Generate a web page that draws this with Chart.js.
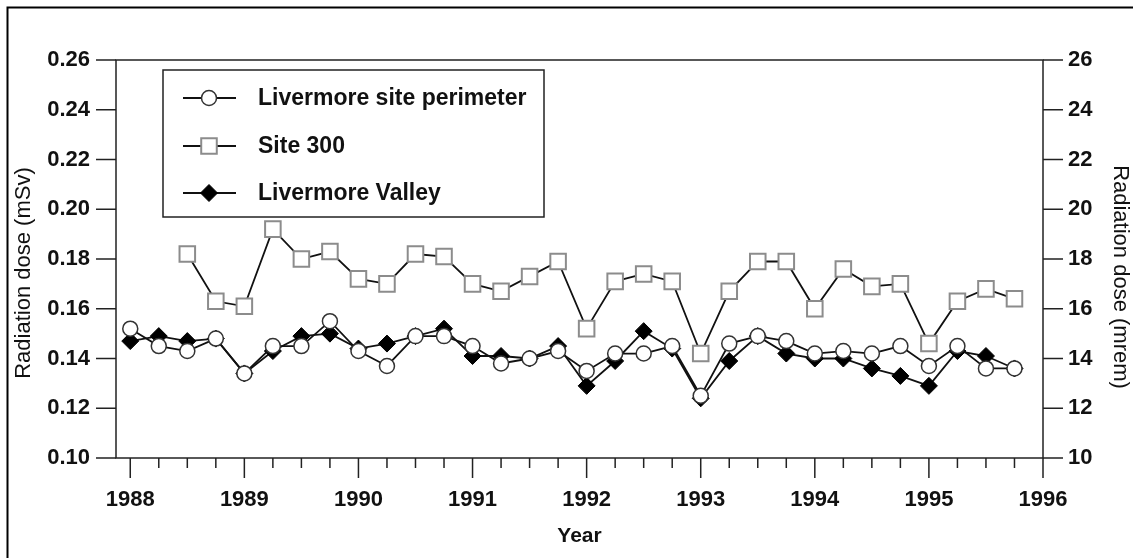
<!DOCTYPE html>
<html lang="en">
<head>
<meta charset="UTF-8">
<title>Radiation dose</title>
<script src="https://cdn.jsdelivr.net/npm/chart.js"></script>
<style>
  body { margin: 0; background: #fff; }
  canvas { display: block; }
</style>
</head>
<body>
<canvas id="doseChart" width="1133" height="558"></canvas>
<script>
// quarterly sampling, 1988 - 1995
const quarters = [1988, 1988.25, 1988.5, 1988.75, 1989, 1989.25, 1989.5, 1989.75,
  1990, 1990.25, 1990.5, 1990.75, 1991, 1991.25, 1991.5, 1991.75,
  1992, 1992.25, 1992.5, 1992.75, 1993, 1993.25, 1993.5, 1993.75,
  1994, 1994.25, 1994.5, 1994.75, 1995, 1995.25, 1995.5, 1995.75];

const perimeter = [0.152, 0.145, 0.143, 0.148, 0.134, 0.145, 0.145, 0.155,
  0.143, 0.137, 0.149, 0.149, 0.145, 0.138, 0.140, 0.143,
  0.135, 0.142, 0.142, 0.145, 0.125, 0.146, 0.149, 0.147,
  0.142, 0.143, 0.142, 0.145, 0.137, 0.145, 0.136, 0.136];

const site300 = [null, null, 0.182, 0.163, 0.161, 0.192, 0.180, 0.183,
  0.172, 0.170, 0.182, 0.181, 0.170, 0.167, 0.173, 0.179,
  0.152, 0.171, 0.174, 0.171, 0.142, 0.167, 0.179, 0.179,
  0.160, 0.176, 0.169, 0.170, 0.146, 0.163, 0.168, 0.164];

const valley = [0.147, 0.149, 0.147, 0.148, 0.134, 0.143, 0.149, 0.150,
  0.144, 0.146, 0.149, 0.152, 0.141, 0.141, 0.140, 0.145,
  0.129, 0.139, 0.151, 0.144, 0.124, 0.139, 0.149, 0.142,
  0.140, 0.140, 0.136, 0.133, 0.129, 0.143, 0.141, 0.136];

const yearTicks = [1988, 1989, 1990, 1991, 1992, 1993, 1994, 1995, 1996];
const mSvTicks = [0.10, 0.12, 0.14, 0.16, 0.18, 0.20, 0.22, 0.24, 0.26];
const mremTicks = [10, 12, 14, 16, 18, 20, 22, 24, 26];
const quarterTicks = quarters.concat([1996]);

const FONT = "'Liberation Sans', Arial, Helvetica, sans-serif";
const INK = '#111';

function points(values) {
  return quarters.map((q, i) => ({ x: q, y: values[i] }));
}

// axes frame and tick marks (major / minor lengths differ)
const frame = {
  id: 'frame',
  beforeDatasetsDraw(chart) {
    const { ctx, chartArea: a, scales } = chart;
    ctx.save();
    ctx.strokeStyle = '#222';
    ctx.lineWidth = 1.5;
    ctx.strokeRect(a.left, a.top, a.right - a.left, a.bottom - a.top);
    ctx.beginPath();
    mSvTicks.forEach(v => {
      const y = scales.y.getPixelForValue(v);
      ctx.moveTo(a.left - 20, y); ctx.lineTo(a.left, y);
    });
    mremTicks.forEach(v => {
      const y = scales.y2.getPixelForValue(v);
      ctx.moveTo(a.right, y); ctx.lineTo(a.right + 20, y);
    });
    quarterTicks.forEach(q => {
      const x = scales.x.getPixelForValue(q);
      const len = Number.isInteger(q) ? 20 : 10;
      ctx.moveTo(x, a.bottom); ctx.lineTo(x, a.bottom + len);
    });
    ctx.stroke();

    // vertical axis titles, sitting a little below the plot middle
    ctx.fillStyle = INK;
    ctx.font = '22px ' + FONT;
    ctx.textAlign = 'center';
    ctx.textBaseline = 'middle';
    const mid = (a.top + a.bottom) / 2 + 14;
    ctx.save();
    ctx.translate(24, mid);
    ctx.rotate(-Math.PI / 2);
    ctx.fillText('Radiation dose (mSv)', 0, 0);
    ctx.restore();
    ctx.save();
    ctx.translate(1120, mid + 4);
    ctx.rotate(Math.PI / 2);
    ctx.fillText('Radiation dose (mrem)', 0, 0);
    ctx.restore();
    ctx.restore();
  },
  afterDraw(chart) {
    // outer figure border (top and left visible)
    const ctx = chart.ctx;
    ctx.save();
    ctx.strokeStyle = '#000';
    ctx.lineWidth = 2;
    ctx.beginPath();
    ctx.moveTo(7.5, chart.height);
    ctx.lineTo(7.5, 7.5);
    ctx.lineTo(chart.width, 7.5);
    ctx.stroke();
    ctx.restore();
  }
};

function drawMarker(ctx, ds, x, y) {
  ctx.fillStyle = ds.pointBackgroundColor;
  ctx.strokeStyle = ds.pointBorderColor;
  ctx.lineWidth = ds.pointBorderWidth;
  ctx.beginPath();
  const r = ds.pointRadius;
  if (ds.pointStyle === 'circle') {
    ctx.arc(x, y, r, 0, Math.PI * 2);
  } else if (ds.pointStyle === 'rect') {
    const s = r * Math.SQRT1_2;
    ctx.rect(x - s, y - s, 2 * s, 2 * s);
  } else {
    ctx.moveTo(x, y - r); ctx.lineTo(x + r, y); ctx.lineTo(x, y + r); ctx.lineTo(x - r, y);
    ctx.closePath();
  }
  ctx.fill();
  ctx.stroke();
}

// boxed legend inside the plot, top left
const legendBox = {
  id: 'legendBox',
  afterDraw(chart) {
    const ctx = chart.ctx;
    const rows = [98, 146, 193];
    ctx.save();
    ctx.strokeStyle = '#222';
    ctx.lineWidth = 1.5;
    ctx.strokeRect(163, 70, 381, 147);
    chart.data.datasets.forEach((ds, i) => {
      const y = rows[i];
      ctx.strokeStyle = INK;
      ctx.lineWidth = 1.8;
      ctx.beginPath();
      ctx.moveTo(183, y); ctx.lineTo(236, y);
      ctx.stroke();
      drawMarker(ctx, ds, 209, y);
      ctx.fillStyle = INK;
      ctx.font = 'bold 23px ' + FONT;
      ctx.textBaseline = 'middle';
      ctx.textAlign = 'left';
      ctx.fillText(ds.label, 258, y + 1);
    });
    ctx.restore();
  }
};

const tickFont = { family: FONT, size: 22, weight: 'bold' };

new Chart(document.getElementById('doseChart'), {
  type: 'line',
  data: {
    datasets: [
      {
        label: 'Livermore site perimeter',
        data: points(perimeter),
        borderColor: INK, borderWidth: 1.8,
        pointStyle: 'circle', pointRadius: 7.5,
        pointBackgroundColor: '#fff', pointBorderColor: '#333', pointBorderWidth: 1.5,
        order: 0
      },
      {
        label: 'Site 300',
        data: points(site300),
        borderColor: INK, borderWidth: 1.8,
        pointStyle: 'rect', pointRadius: 11,
        pointBackgroundColor: '#fff', pointBorderColor: '#8c8c8c', pointBorderWidth: 2,
        order: 2
      },
      {
        label: 'Livermore Valley',
        data: points(valley),
        borderColor: INK, borderWidth: 1.8,
        pointStyle: 'rectRot', pointRadius: 8.5,
        pointBackgroundColor: '#000', pointBorderColor: '#000', pointBorderWidth: 1,
        order: 1
      }
    ]
  },
  options: {
    responsive: false,
    animation: false,
    layout: { padding: { top: 60, left: 0, right: 0, bottom: 0 } },
    plugins: { legend: { display: false }, tooltip: { enabled: false } },
    elements: { line: { tension: 0 } },
    scales: {
      x: {
        type: 'linear', min: 1987.875, max: 1996,
        grid: { display: false, drawTicks: false },
        border: { display: false },
        afterBuildTicks: s => { s.ticks = yearTicks.map(v => ({ value: v })); },
        ticks: { padding: 29, font: tickFont, color: INK, maxRotation: 0, autoSkip: false, callback: v => String(v) },
        title: { display: true, text: 'Year', color: INK, font: { family: FONT, size: 21, weight: 'bold' }, padding: { top: 0, bottom: 9 } },
        afterFit: s => { s.height = 100; }
      },
      y: {
        type: 'linear', position: 'left', min: 0.10, max: 0.26,
        grid: { display: false, drawTicks: false },
        border: { display: false },
        afterBuildTicks: s => { s.ticks = mSvTicks.map(v => ({ value: v })); },
        ticks: { padding: 26, font: tickFont, color: INK, callback: v => v.toFixed(2) },
        afterFit: s => { s.width = 116; }
      },
      y2: {
        type: 'linear', position: 'right', min: 10, max: 26,
        grid: { display: false, drawTicks: false },
        border: { display: false },
        afterBuildTicks: s => { s.ticks = mremTicks.map(v => ({ value: v })); },
        ticks: { padding: 25, font: tickFont, color: INK, callback: v => String(v) },
        afterFit: s => { s.width = 90; }
      }
    }
  },
  plugins: [frame, legendBox]
});
</script>
</body>
</html>
